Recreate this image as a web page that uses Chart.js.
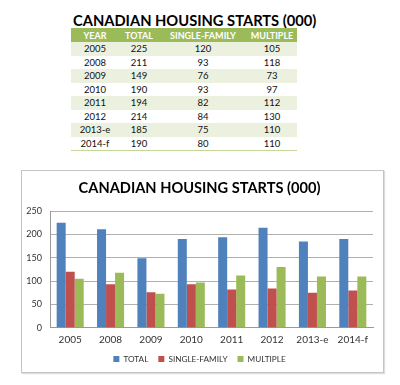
<!DOCTYPE html>
<html><head><meta charset="utf-8">
<script src="https://cdn.jsdelivr.net/npm/chart.js@4"></script>
<style>
html,body{margin:0;padding:0;background:#fff;width:400px;height:385px;overflow:hidden;font-family:Lato,'Liberation Sans',sans-serif;}
#ttitle{position:absolute;left:73px;top:11px;font-weight:bold;font-size:14.7px;color:#000;white-space:nowrap;line-height:18px;}
#tbl{position:absolute;left:71px;top:28px;border-collapse:collapse;font-size:9.5px;color:#111;}
#tbl td,#tbl th{padding:0;text-align:center;}
#tbl tr{height:13.5px;}
#tbl tr.hd{height:14px;}
#tbl th{background:#9bbb59;color:#fff;font-weight:bold;font-size:9px;}
#tbl tr.odd td{background:#ebf1de;}
#tbl tr:last-child td{border-bottom:1px solid #c4d79b;}
#box{position:absolute;left:21px;top:170px;width:361px;height:201px;border:1px solid #c4c4c4;box-shadow:1px 1px 1px #ddd;}
#c{position:absolute;left:22px;top:171px;}
</style></head>
<body>
<div id="ttitle">CANADIAN HOUSING STARTS (000)</div>
<table id="tbl"></table>
<div id="box"></div>
<canvas id="c" width="361" height="205"></canvas>
<script>
const years = ['2005','2008','2009','2010','2011','2012','2013-e','2014-f'];
const total = [225,211,149,190,194,214,185,190];
const singleFamily = [120,93,76,93,82,84,75,80];
const multiple = [105,118,73,97,112,130,110,110];
const headers = ['YEAR','TOTAL','SINGLE-FAMILY','MULTIPLE'];
const colWidths = [48,40,88,50];

// table
const tbl = document.getElementById('tbl');
let html = '<tr class="hd">' + headers.map((h,i)=>'<th style="width:'+colWidths[i]+'px">'+h+'</th>').join('') + '</tr>';
years.forEach((y,i)=>{
  html += '<tr class="'+(i%2===0?'odd':'even')+'"><td>'+y+'</td><td>'+total[i]+'</td><td>'+singleFamily[i]+'</td><td>'+multiple[i]+'</td></tr>';
});
tbl.innerHTML = html;

const ctx = document.getElementById('c');
new Chart(ctx, {
  type:'bar',
  data:{
    labels: years,
    datasets:[
      {label:'TOTAL', data: total, backgroundColor:'#4f81bd'},
      {label:'SINGLE-FAMILY', data: singleFamily, backgroundColor:'#c0504d'},
      {label:'MULTIPLE', data: multiple, backgroundColor:'#9bbb59'}
    ]
  },
  options:{
    responsive:false,
    animation:false,
    devicePixelRatio:1,
    datasets:{bar:{barPercentage:1, categoryPercentage:0.67}},
    layout:{padding:{left:4,right:10,top:0,bottom:3}},
    plugins:{
      title:{display:true,text:'CANADIAN HOUSING STARTS (000)',color:'#000',
        font:{family:'Lato',size:14.6,weight:'bold'},padding:{top:9,bottom:13.5}},
      legend:{position:'bottom',
        labels:{boxWidth:6,boxHeight:6,color:'#333',font:{family:'Lato',size:8.2},padding:10}},
      tooltip:{enabled:false}
    },
    scales:{
      x:{grid:{display:false,drawTicks:false},border:{color:'#999'},
        ticks:{color:'#333',font:{family:'Lato',size:10},padding:6},
        afterFit:(s)=>{s.height=17;}},
      y:{min:0,max:250,grid:{color:'#b0b0b0',drawTicks:false},border:{color:'#999'},
        ticks:{stepSize:50,color:'#333',font:{family:'Lato',size:9},padding:8},
        afterFit:(s)=>{s.width=24;}}
    }
  }
});
</script>
</body></html>
